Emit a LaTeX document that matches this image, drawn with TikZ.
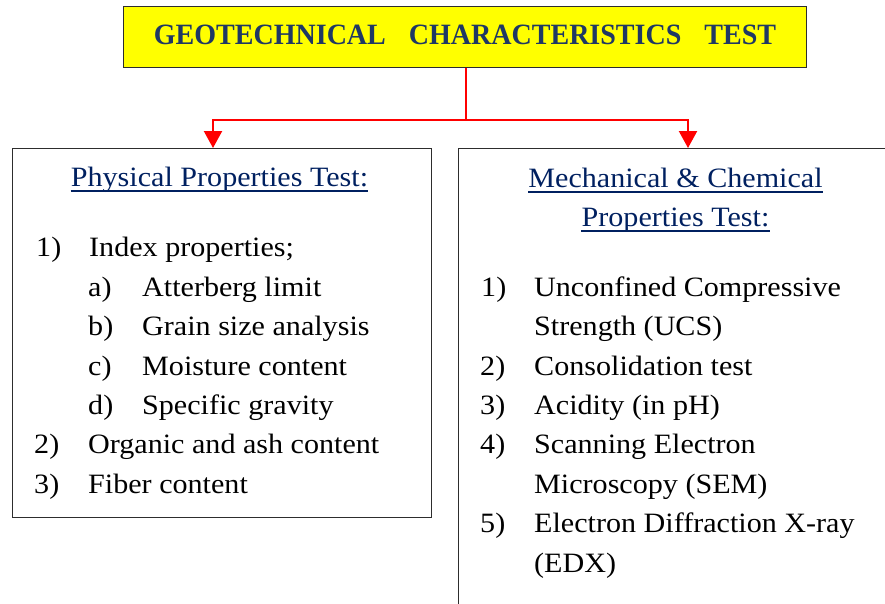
\documentclass[tikz,border=0pt]{standalone}
\usepackage{fontspec}
\setmainfont{Liberation Serif}
\newfontfamily\bodyfont[FakeStretch=1.075]{Liberation Serif}
\newfontfamily\bannerfont[FakeStretch=0.95]{Liberation Serif}
\usetikzlibrary{arrows.meta}
\definecolor{titleblue}{RGB}{31,56,100}
\definecolor{headblue}{RGB}{0,32,96}
\definecolor{linkred}{RGB}{255,0,0}
\definecolor{boxline}{RGB}{45,45,45}
\definecolor{titlefill}{RGB}{255,255,0}

\begin{document}
\begin{tikzpicture}[x=1pt,y=-1pt,
  txt/.style={anchor=base west, inner sep=0pt, text=black,
    font=\bodyfont\fontsize{28}{34}\selectfont},
  head/.style={anchor=base, inner sep=0pt, text=headblue,
    font=\bodyfont\fontsize{28}{34}\selectfont},
  uline/.style={draw=headblue, line width=1.4pt},
  panel/.style={draw=boxline, line width=1.3pt, anchor=north west, inner sep=0pt},
  linkline/.style={draw=linkred, line width=2.2pt},
  link/.style={linkline, -{Triangle[width=18pt,length=17pt]}}
]
\useasboundingbox (0,0) rectangle (885,603);
\begin{scope}
\clip (0,0) rectangle (885,603);

% title banner
\node[panel, fill=titlefill, minimum width=683pt, minimum height=61pt] (title) at (123,6) {};
\node[anchor=base, inner sep=0pt, text=titleblue,
  font=\bannerfont\fontsize{29.5}{34}\selectfont\bfseries] (titletext) at (465,44)
  {GEOTECHNICAL\hspace{23pt}CHARACTERISTICS\hspace{23pt}TEST};

% the two panels
\node[panel, minimum width=419pt, minimum height=369pt] (left) at (12,148) {};
\node[panel, minimum width=450pt, minimum height=480pt] (right) at (458,148) {};

% red splitter
\coordinate (split) at (466,120);
\coordinate (lbranch) at (213,120);
\coordinate (rbranch) at (688,120);
\draw[linkline] (title.south -| split) -- (split);
\draw[link] (split) -- (lbranch) -- (lbranch |- left.north);
\draw[link] (split) -- (rbranch) -- (rbranch |- right.north);

% left panel: physical properties
\node[head] (lh) at (219.5,186) {Physical Properties Test:};
\draw[uline] ([yshift=-5pt]lh.base west) -- ([yshift=-5pt]lh.base east);

\node[txt] (l1n) at (36,256) {1)};
\node[txt] (l1)  at (89,256) {Index properties;};
\node[txt] (lan) at (88,296) {a)};
\node[txt] (la)  at (142,296) {Atterberg limit};
\node[txt] (lbn) at (88,335) {b)};
\node[txt] (lb)  at (142,335) {Grain size analysis};
\node[txt] (lcn) at (88,375) {c)};
\node[txt] (lc)  at (142,375) {Moisture content};
\node[txt] (ldn) at (88,414) {d)};
\node[txt] (ld)  at (142,414) {Specific gravity};
\node[txt] (l2n) at (34,453) {2)};
\node[txt] (l2)  at (88,453) {Organic and ash content};
\node[txt] (l3n) at (34,493) {3)};
\node[txt] (l3)  at (88,493) {Fiber content};

% right panel: mechanical and chemical properties
\node[head] (rh1) at (675.5,187) {Mechanical \& Chemical};
\draw[uline] ([yshift=-5pt]rh1.base west) -- ([yshift=-5pt]rh1.base east);
\node[head] (rh2) at (675.5,226) {Properties Test:};
\draw[uline] ([yshift=-5pt]rh2.base west) -- ([yshift=-5pt]rh2.base east);

\node[txt] (r1n) at (481,296) {1)};
\node[txt] (r1)  at (534,296) {Unconfined Compressive};
\node[txt] (r1b) at (534,335) {Strength (UCS)};
\node[txt] (r2n) at (480,375) {2)};
\node[txt] (r2)  at (534,375) {Consolidation test};
\node[txt] (r3n) at (480,414) {3)};
\node[txt] (r3)  at (534,414) {Acidity (in pH)};
\node[txt] (r4n) at (480,453) {4)};
\node[txt] (r4)  at (534,453) {Scanning Electron};
\node[txt] (r4b) at (534,493) {Microscopy (SEM)};
\node[txt] (r5n) at (480,532) {5)};
\node[txt] (r5)  at (534,532) {Electron Diffraction X-ray};
\node[txt] (r5b) at (534,572) {(EDX)};
\end{scope}
\end{tikzpicture}
\end{document}
